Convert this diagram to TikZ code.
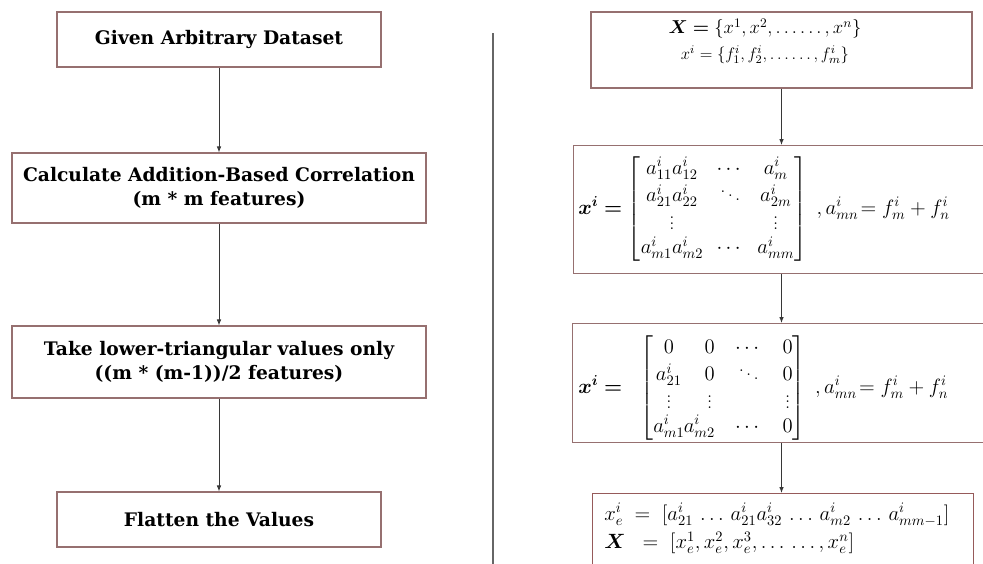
\RequirePackage{fix-cm}
\documentclass[tikz,border=0pt]{standalone}
\usepackage{amsmath,bm}
\usepackage{fontspec}
\newfontfamily\slab{DejaVu Serif}
\usetikzlibrary{arrows.meta}
\definecolor{boxc}{RGB}{150,112,112}
\definecolor{boxr}{RGB}{150,90,90}
\definecolor{arrc}{RGB}{55,55,55}
\begin{document}
\begin{tikzpicture}[x=0.75pt,y=-0.75pt,
  box/.style={draw=boxc,line width=0.8pt,rectangle,inner sep=0pt},
  lbl/.style={font=\slab\bfseries\fontsize{14}{17.5}\selectfont,align=center,inner sep=0pt},
  mth/.style={inner sep=0pt,anchor=west},
  conn/.style={draw=arrc,line width=0.75pt,-{Latex[length=4.5pt,width=3.5pt]}}]
\useasboundingbox (0,0) rectangle (983,564);
\clip (0,0) rectangle (983,564);
% left column
\node[box,minimum width=324*0.75pt,minimum height=55*0.75pt] (L1) at (219,39.5) {};
\node[box,minimum width=414*0.75pt,minimum height=70*0.75pt] (L2) at (219,188) {};
\node[box,minimum width=414*0.75pt,minimum height=72*0.75pt] (L3) at (219,362) {};
\node[box,minimum width=324*0.75pt,minimum height=55*0.75pt] (L4) at (219,519.5) {};
\node[lbl] (t1) at (L1) {Given Arbitrary Dataset};
\node[lbl] (t2) at (L2) {Calculate Addition-Based Correlation\\(m * m features)};
\node[lbl] (t3) at (L3) {Take lower-triangular values only\\((m * (m-1))/2 features)};
\node[lbl] (t4) at (L4) {Flatten the Values};
\draw[conn] (L1.south) -- (L2.north);
\draw[conn] (L2.south) -- (L3.north);
\draw[conn] (L3.south) -- (L4.north);
% divider
\coordinate (d1) at (493,33);
\coordinate (d2) at (493,570);
\draw[draw=black!60,line width=0.9pt] (d1) -- (d2);
% right column
\node[box,minimum width=381*0.75pt,minimum height=76*0.75pt] (R1) at (781.5,50) {};
\node[box,minimum width=440*0.75pt,minimum height=128*0.75pt,anchor=north west] (R2) at (573,145) {};
\node[box,minimum width=440*0.75pt,minimum height=119*0.75pt,anchor=north west] (R3) at (572,323) {};
\node[box,draw=boxr,minimum width=381*0.75pt,minimum height=120*0.75pt,anchor=north west] (R4) at (592,493) {};
\draw[conn] (R1.south) -- (R1.south |- R2.north);
\draw[conn] (R1.south |- R2.south) -- (R1.south |- R3.north);
\draw[conn] (R1.south |- R3.south) -- (R1.south |- R4.north);
\node[inner sep=0pt,align=center] (m1) at (765,41)
  {\fontsize{14}{16}\selectfont$\bm{X=}\{x^1,x^2,\ldots\ldots,x^n\}$\\[4pt]
   \fontsize{12.5}{14}\selectfont$x^i=\{f^i_1,f^i_2,\ldots\ldots,f^i_m\}$};
\node[mth] (m2) at (578,209) {\fontsize{15.5}{18}\selectfont$\bm{x^i=}\begin{bmatrix}
  a^i_{11}a^i_{12} & \cdots & a^i_{m}\\
  a^i_{21}a^i_{22} & \ddots & a^i_{2m}\\
  \vdots & & \vdots\\
  a^i_{m1}a^i_{m2} & \cdots & a^i_{mm}
  \end{bmatrix}\ ,a^i_{mn}\!=f^i_m+f^i_n$};
\node[mth] (m3) at (578,388) {\fontsize{15.5}{18}\selectfont$\bm{x^i=}\ \ \setlength\arraycolsep{7.5pt}\begin{bmatrix}
  0 & 0 & \cdots & 0\\
  a^i_{21} & 0 & \ddots & 0\\
  \vdots & \vdots & & \vdots\\
  a^i_{m1} & \!\!\!\!\!\!a^i_{m2} & \cdots & 0
  \end{bmatrix}\ ,a^i_{mn}\!=f^i_m+f^i_n$};
\node[inner sep=0pt,align=left,anchor=north west] (m4) at (604,503)
  {\fontsize{15.5}{18}\selectfont$x^i_e\;=\;[a^i_{21}\,\ldots\,a^i_{21}a^i_{32}\,\ldots\,a^i_{m2}\,\ldots\,a^i_{mm-1}]$\\[3pt]
   \fontsize{15.5}{18}\selectfont$\bm{X}\;\;=\;[x^1_e,x^2_e,x^3_e,\ldots\,\ldots,x^n_e]$};
\end{tikzpicture}
\end{document}
